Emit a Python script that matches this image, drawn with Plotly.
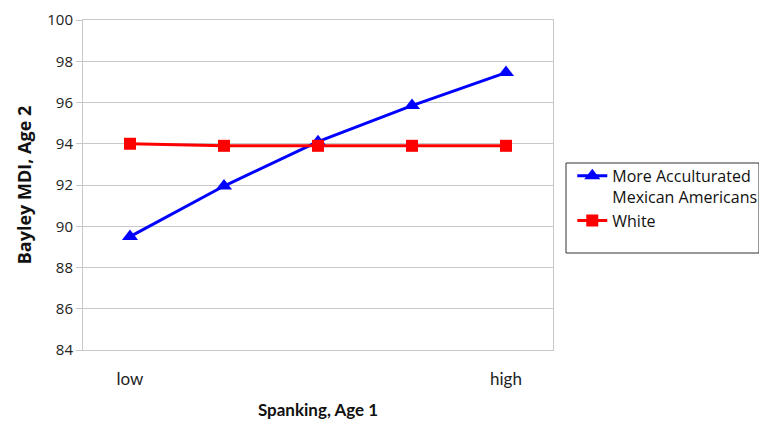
import plotly.graph_objects as go

categories = ["c1", "c2", "c3", "c4", "c5"]
tick_labels = ["low", "", "", "", "high"]
mexican_american = [89.5, 91.95, 94.1, 95.85, 97.45]
white = [94.0, 93.9, 93.9, 93.9, 93.9]
y_ticks = [84, 86, 88, 90, 92, 94, 96, 98, 100]

fig = go.Figure()
fig.add_trace(go.Scatter(
    x=categories, y=mexican_american, mode="lines+markers",
    name="More Acculturated<br>Mexican Americans",
    line=dict(color="#0000FF", width=3),
    marker=dict(symbol="triangle-up", size=14, color="#0000FF"),
))
fig.add_trace(go.Scatter(
    x=categories, y=white, mode="lines+markers",
    name="White",
    line=dict(color="#FF0000", width=3),
    marker=dict(symbol="square", size=12, color="#FF0000"),
))

# page body has an 8px margin, so the figure is shifted by 8px
fig.update_layout(
    width=790, height=420,
    margin=dict(l=75, r=245, t=12, b=78),
    paper_bgcolor="white", plot_bgcolor="white",
    font=dict(family="Open Sans, DejaVu Sans, sans-serif", color="#222222"),
    showlegend=True,
    legend=dict(
        x=1.041, y=0.579, xanchor="left", yanchor="top", valign="top",
        font=dict(size=16, family="Open Sans, sans-serif", color="#111111"),
        bgcolor="rgba(0,0,0,0)", borderwidth=0,
        tracegroupgap=0, itemwidth=30,
    ),
    shapes=[dict(type="rect", xref="paper", yref="paper",
                 x0=(566 - 83) / 470, x1=(759 - 83) / 470,
                 y0=(350 - 253) / 330, y1=(350 - 163) / 330,
                 line=dict(color="#333333", width=1))],
)

fig.update_xaxes(
    type="category", range=[-0.5, 4.5], automargin=False,
    tickvals=categories, ticktext=tick_labels,
    showgrid=False, showline=True, linecolor="#C8C8C8", mirror=True,
    ticks="", tickfont=dict(size=17, family="Lato, sans-serif", color="#222222"),
    ticklabelstandoff=14,
    title=dict(text="<b>Spanking, Age 1</b>",
               font=dict(size=17, family="Lato, sans-serif", color="#111111"),
               standoff=15),
)
fig.update_yaxes(
    range=[84, 100], tickvals=y_ticks, automargin=False,
    showgrid=True, gridcolor="#C8C8C8", gridwidth=1,
    showline=True, linecolor="#C8C8C8", mirror=True,
    ticks="outside", ticklen=6, tickcolor="#C8C8C8",
    tickfont=dict(size=15, color="#222222"),
    zeroline=False,
    title=dict(text="<b>Bayley MDI, Age 2</b>",
               font=dict(size=18, family="Open Sans, sans-serif", color="#111111"),
               standoff=10),
)

fig.write_html("out.html")
